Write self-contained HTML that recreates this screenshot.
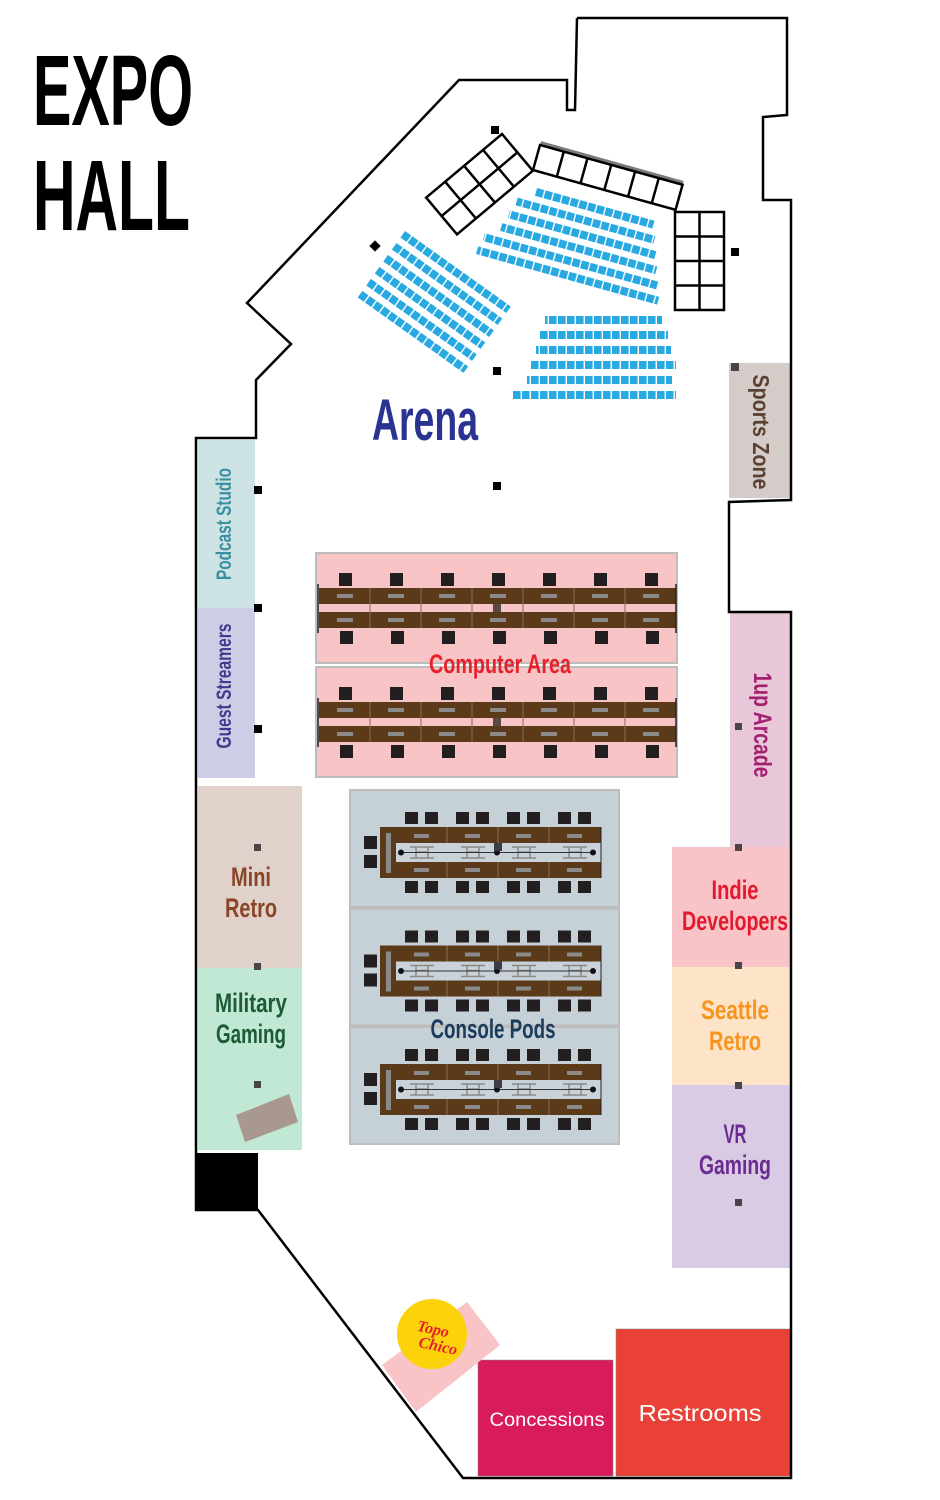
<!DOCTYPE html>
<html><head><meta charset="utf-8"><style>
html,body{margin:0;padding:0;background:#fff;width:940px;height:1500px;overflow:hidden}
svg{display:block}
.c{font-family:"Liberation Sans Narrow","Liberation Sans",sans-serif;font-weight:bold}
</style></head><body>
<svg width="940" height="1500" viewBox="0 0 940 1500" xmlns="http://www.w3.org/2000/svg">
<defs>
<pattern id="seat" width="9" height="8" patternUnits="userSpaceOnUse"><rect x="0" y="0" width="7.6" height="8" fill="#29a9e1"/></pattern>
<g id="comp">
<rect x="316" y="553" width="361" height="110" fill="#f9c4c6" stroke="#bdbdbd" stroke-width="2"/>
<g fill="#231f20">
<rect x="339" y="573" width="13" height="13"/><rect x="390" y="573" width="13" height="13"/><rect x="441" y="573" width="13" height="13"/><rect x="492" y="573" width="13" height="13"/><rect x="543" y="573" width="13" height="13"/><rect x="594" y="573" width="13" height="13"/><rect x="645" y="573" width="13" height="13"/>
<rect x="340" y="631" width="13" height="13"/><rect x="391" y="631" width="13" height="13"/><rect x="442" y="631" width="13" height="13"/><rect x="493" y="631" width="13" height="13"/><rect x="544" y="631" width="13" height="13"/><rect x="595" y="631" width="13" height="13"/><rect x="646" y="631" width="13" height="13"/>
</g>
<rect x="319" y="588" width="357" height="16" fill="#5b3a1a"/>
<rect x="319" y="612" width="357" height="16" fill="#5b3a1a"/>
<g stroke="#8b6d52" stroke-width="1">
<line x1="370" y1="588" x2="370" y2="628"/><line x1="421" y1="588" x2="421" y2="628"/><line x1="472" y1="588" x2="472" y2="628"/><line x1="523" y1="588" x2="523" y2="628"/><line x1="574" y1="588" x2="574" y2="628"/><line x1="625" y1="588" x2="625" y2="628"/>
</g>
<g fill="#8a8a8a">
<rect x="337" y="594" width="16" height="4"/><rect x="388" y="594" width="16" height="4"/><rect x="439" y="594" width="16" height="4"/><rect x="490" y="594" width="16" height="4"/><rect x="541" y="594" width="16" height="4"/><rect x="592" y="594" width="16" height="4"/><rect x="643" y="594" width="16" height="4"/>
<rect x="337" y="618" width="16" height="4"/><rect x="388" y="618" width="16" height="4"/><rect x="439" y="618" width="16" height="4"/><rect x="490" y="618" width="16" height="4"/><rect x="541" y="618" width="16" height="4"/><rect x="592" y="618" width="16" height="4"/><rect x="643" y="618" width="16" height="4"/>
</g>
<rect x="493" y="604" width="8" height="8" fill="#5a4a45"/>
<line x1="318" y1="584" x2="318" y2="633" stroke="#222" stroke-width="1.5"/>
<line x1="676" y1="584" x2="676" y2="633" stroke="#222" stroke-width="1.5"/>
</g>
<g id="pod">
<rect x="350" y="790" width="269" height="117" fill="#c5d0d7" stroke="#bdbdbd" stroke-width="2"/>
<g fill="#231f20">
<rect x="405" y="812" width="13" height="12"/><rect x="425" y="812" width="13" height="12"/><rect x="456" y="812" width="13" height="12"/><rect x="476" y="812" width="13" height="12"/><rect x="507" y="812" width="13" height="12"/><rect x="527" y="812" width="13" height="12"/><rect x="558" y="812" width="13" height="12"/><rect x="578" y="812" width="13" height="12"/>
<rect x="405" y="881" width="13" height="12"/><rect x="425" y="881" width="13" height="12"/><rect x="456" y="881" width="13" height="12"/><rect x="476" y="881" width="13" height="12"/><rect x="507" y="881" width="13" height="12"/><rect x="527" y="881" width="13" height="12"/><rect x="558" y="881" width="13" height="12"/><rect x="578" y="881" width="13" height="12"/>
<rect x="364" y="836" width="13" height="13"/><rect x="364" y="855" width="13" height="13"/>
</g>
<rect x="380" y="827" width="221" height="51" fill="#5b3a1a"/>
<rect x="396" y="843" width="205" height="19" fill="#c8d2d8"/>
<rect x="386" y="833" width="5" height="40" fill="#8a8a8a"/>
<g stroke="#8b6d52" stroke-width="1">
<line x1="447" y1="827" x2="447" y2="843"/><line x1="498" y1="827" x2="498" y2="843"/><line x1="549" y1="827" x2="549" y2="843"/>
<line x1="447" y1="862" x2="447" y2="878"/><line x1="498" y1="862" x2="498" y2="878"/><line x1="549" y1="862" x2="549" y2="878"/>
</g>
<g fill="#8a8a8a">
<rect x="414" y="834" width="15" height="4"/><rect x="465" y="834" width="15" height="4"/><rect x="516" y="834" width="15" height="4"/><rect x="567" y="834" width="15" height="4"/>
<rect x="414" y="868" width="15" height="4"/><rect x="465" y="868" width="15" height="4"/><rect x="516" y="868" width="15" height="4"/><rect x="567" y="868" width="15" height="4"/>
</g>
<g stroke="#8a8a8a" stroke-width="1.5" fill="none">
<path d="M410 847h24M410 858h24M416 847v11M428 847v11M416 852h12"/>
<path d="M461 847h24M461 858h24M467 847v11M479 847v11M467 852h12"/>
<path d="M512 847h24M512 858h24M518 847v11M530 847v11M518 852h12"/>
<path d="M563 847h24M563 858h24M569 847v11M581 847v11M569 852h12"/>
</g>
<line x1="401" y1="852.5" x2="593" y2="852.5" stroke="#333" stroke-width="1"/>
<circle cx="401" cy="852.5" r="3" fill="#111"/><circle cx="497" cy="852.5" r="3" fill="#111"/><circle cx="593" cy="852.5" r="3" fill="#111"/>
<rect x="494" y="843" width="8" height="8" fill="#3c3c46"/>
<line x1="601" y1="827" x2="601" y2="878" stroke="#222" stroke-width="1"/>
</g>
</defs>

<!-- room fills -->
<rect x="729" y="363" width="61" height="135" fill="#d3ccc8"/>
<rect x="198" y="440" width="57" height="168" fill="#cde3e4"/>
<rect x="198" y="608" width="57" height="170" fill="#cdcde6"/>
<rect x="198" y="786" width="104" height="182" fill="#e0d1cb"/>
<rect x="198" y="968" width="104" height="182" fill="#c0e8d5"/>
<polygon points="236,1115 289,1094 298,1122 245,1142" fill="#a89890"/>
<rect x="196" y="1153" width="62" height="57" fill="#000"/>
<rect x="730" y="612" width="60" height="235" fill="#e8c7d9"/>
<rect x="672" y="847" width="118" height="120" fill="#f9c4c8"/>
<rect x="672" y="967" width="118" height="118" fill="#fde3c8"/>
<rect x="672" y="1085" width="118" height="183" fill="#d9cbe3"/>
<rect x="478" y="1360" width="135" height="116" fill="#d81b5a" stroke="#888" stroke-width="0.5"/>
<rect x="616" y="1329" width="174" height="147" fill="#e94037" stroke="#888" stroke-width="0.5"/>
<polygon points="382,1365 467,1302 500,1345 416,1412" fill="#f9c4c6"/>
<circle cx="432" cy="1334" r="35" fill="#fcd20a"/>
<text x="432" y="1334" text-anchor="middle" font-family="Liberation Serif,serif" font-style="italic" font-weight="bold" font-size="16" fill="#e3202f" transform="rotate(12 432 1334)">Topo</text>
<text x="437" y="1351" text-anchor="middle" font-family="Liberation Serif,serif" font-style="italic" font-weight="bold" font-size="16" fill="#e3202f" transform="rotate(12 437 1351)">Chico</text>

<!-- outline -->
<polyline fill="none" stroke="#000" stroke-width="2.5" stroke-linejoin="miter"
 points="577,18 787,18 787,115 763,117 763,200 791,200 791,500 729,502 729,612 791,612 791,1478 463,1478 258,1210 258,1210 196,1210 196,438 256,438 256,380 291,344 247,303 459,80 567,80 567,110 575,110 577,18"/>

<!-- arena seating -->
<g fill="url(#seat)">
<rect x="545" y="316" width="117" height="8"/>
<rect x="540" y="331" width="128" height="8"/>
<rect x="536" y="346" width="135" height="8"/>
<rect x="531" y="361" width="145" height="8"/>
<rect x="527" y="376" width="145" height="8"/>
<rect x="513" y="391" width="163" height="8"/>
</g>
<g transform="translate(537,188) rotate(15.6)" fill="url(#seat)">
<rect x="0" y="0" width="122" height="8"/>
<rect x="-16" y="14.4" width="143" height="8"/>
<rect x="-20" y="28.8" width="152" height="8"/>
<rect x="-24" y="43.2" width="161" height="8"/>
<rect x="-38" y="57.6" width="180" height="8"/>
<rect x="-41" y="72" width="188" height="8"/>
</g>
<g transform="translate(405,231) rotate(35.5)" fill="url(#seat)">
<rect x="0" y="0" width="130" height="8"/>
<rect x="0" y="14.7" width="130" height="8"/>
<rect x="0" y="29.4" width="130" height="8"/>
<rect x="0" y="44.1" width="130" height="8"/>
<rect x="0" y="58.8" width="130" height="8"/>
<rect x="0" y="73.5" width="130" height="8"/>
</g>
<!-- grids -->
<g transform="translate(502,134) rotate(50)" fill="#fff" stroke="#000" stroke-width="2.5">
<rect x="0" y="0" width="48" height="99"/>
<path d="M24 0v99M0 24.75h48M0 49.5h48M0 74.25h48"/>
</g>
<g transform="translate(540,145) rotate(15.6)">
<line x1="0" y1="-2" x2="148" y2="-2" stroke="#7a7a7a" stroke-width="4"/>
<rect x="0" y="0" width="148" height="26" fill="#fff" stroke="#000" stroke-width="2.5"/>
<path d="M24.7 0v26M49.3 0v26M74 0v26M98.7 0v26M123.3 0v26" stroke="#000" stroke-width="2.5"/>
</g>
<g fill="#fff" stroke="#000" stroke-width="2.5">
<rect x="675" y="212" width="49" height="98"/>
<path d="M699.5 212v98M675 236.5h49M675 261h49M675 285.5h49"/>
</g>

<!-- pillars -->
<g fill="#000">
<rect x="491" y="126" width="8" height="8"/>
<rect x="371" y="242" width="8" height="8" transform="rotate(45 375 246)"/>
<rect x="731" y="248" width="8" height="8"/>
<rect x="493" y="367" width="8" height="8"/>
<rect x="254" y="486" width="8" height="8"/>
<rect x="493" y="482" width="8" height="8"/>
<rect x="254" y="604" width="8" height="8"/>
<rect x="254" y="725" width="8" height="8"/>
</g>
<g fill="#4a4447">
<rect x="731" y="363" width="8" height="8"/>
<rect x="254" y="844" width="7" height="7"/>
<rect x="254" y="963" width="7" height="7"/>
<rect x="254" y="1081" width="7" height="7"/>
<rect x="735" y="723" width="7" height="7"/>
<rect x="735" y="844" width="7" height="7"/>
<rect x="735" y="962" width="7" height="7"/>
<rect x="735" y="1082" width="7" height="7"/>
<rect x="735" y="1199" width="7" height="7"/>
</g>

<!-- computer & console -->
<use href="#comp"/>
<use href="#comp" y="114"/>
<use href="#pod"/>
<use href="#pod" y="118.5"/>
<use href="#pod" y="237"/>

<!-- labels -->
<text class="c" x="33" y="125" font-size="100" textLength="160" lengthAdjust="spacingAndGlyphs">EXPO</text>
<text class="c" x="33" y="230" font-size="100" textLength="157" lengthAdjust="spacingAndGlyphs">HALL</text>
<text class="c" x="372" y="440" font-size="58" fill="#2b3392" textLength="106" lengthAdjust="spacingAndGlyphs">Arena</text>
<text class="c" x="500" y="673" font-size="27" fill="#e8202a" text-anchor="middle" textLength="142" lengthAdjust="spacingAndGlyphs">Computer Area</text>
<text class="c" x="493" y="1038" font-size="27" fill="#1b3a5c" text-anchor="middle" textLength="125" lengthAdjust="spacingAndGlyphs">Console Pods</text>
<text class="c" font-size="21" fill="#3a8fa0" text-anchor="middle" transform="translate(231,524) rotate(-90)" textLength="112" lengthAdjust="spacingAndGlyphs">Podcast Studio</text>
<text class="c" font-size="21" fill="#3d3d8c" text-anchor="middle" transform="translate(231,686) rotate(-90)" textLength="125" lengthAdjust="spacingAndGlyphs">Guest Streamers</text>
<text class="c" font-size="23" fill="#5c4032" text-anchor="middle" transform="translate(753,432) rotate(90)" textLength="115" lengthAdjust="spacingAndGlyphs">Sports Zone</text>
<text class="c" font-size="25" fill="#a3206f" text-anchor="middle" transform="translate(754,725) rotate(90)" textLength="105" lengthAdjust="spacingAndGlyphs">1up Arcade</text>
<g class="c" font-size="27" text-anchor="middle">
<text x="251" y="886" fill="#8a4528" textLength="40" lengthAdjust="spacingAndGlyphs">Mini</text>
<text x="251" y="917" fill="#8a4528" textLength="52" lengthAdjust="spacingAndGlyphs">Retro</text>
<text x="251" y="1012" fill="#1d5a36" textLength="72" lengthAdjust="spacingAndGlyphs">Military</text>
<text x="251" y="1043" fill="#1d5a36" textLength="70" lengthAdjust="spacingAndGlyphs">Gaming</text>
<text x="735" y="899" fill="#e3192d" textLength="47" lengthAdjust="spacingAndGlyphs">Indie</text>
<text x="735" y="930" fill="#e3192d" textLength="106" lengthAdjust="spacingAndGlyphs">Developers</text>
<text x="735" y="1019" fill="#f7941d" textLength="68" lengthAdjust="spacingAndGlyphs">Seattle</text>
<text x="735" y="1050" fill="#f7941d" textLength="52" lengthAdjust="spacingAndGlyphs">Retro</text>
<text x="735" y="1143" fill="#6a2c91" textLength="23" lengthAdjust="spacingAndGlyphs">VR</text>
<text x="735" y="1174" fill="#6a2c91" textLength="72" lengthAdjust="spacingAndGlyphs">Gaming</text>
</g>
<text x="547" y="1426" font-family="Liberation Sans,sans-serif" font-size="19" fill="#fff" text-anchor="middle" textLength="115" lengthAdjust="spacingAndGlyphs">Concessions</text>
<text x="700" y="1421" font-family="Liberation Sans,sans-serif" font-size="23" fill="#fff" text-anchor="middle" textLength="123" lengthAdjust="spacingAndGlyphs">Restrooms</text>
</svg>
</body></html>
